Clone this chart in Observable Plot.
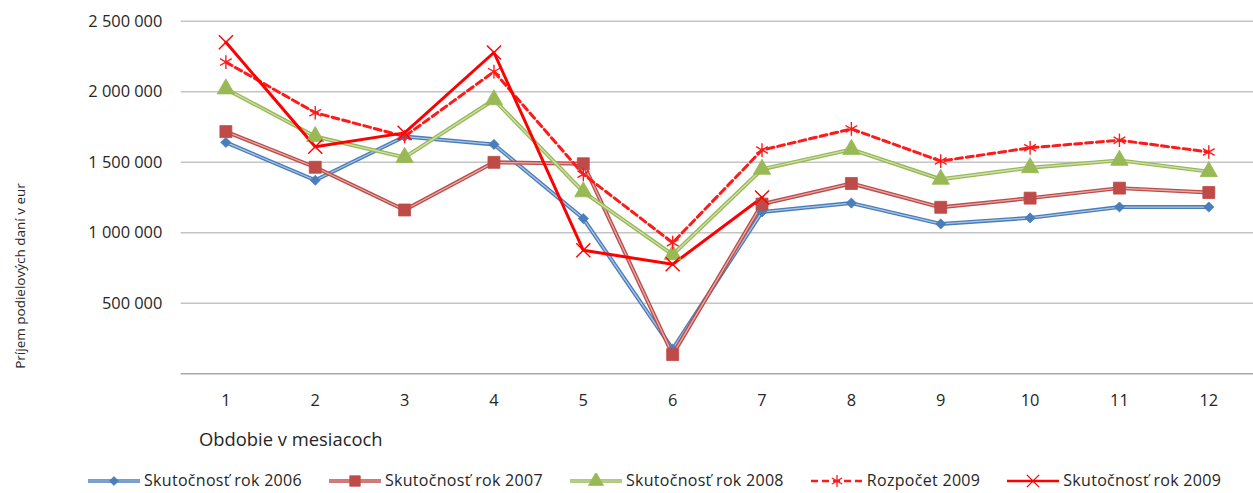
<!DOCTYPE html>
<html>
<head>
<meta charset="utf-8">
<script src="https://cdn.jsdelivr.net/npm/d3@7"></script>
<script src="https://cdn.jsdelivr.net/npm/@observablehq/plot@0.6"></script>
<style>
  html, body { margin: 0; padding: 0; background: #fff; overflow: hidden; }
  #wrap { position: relative; width: 1253px; height: 493px; overflow: hidden; font-family: "Open Sans", Lato, sans-serif; color: #262626; }
  #wrap svg.plot { display: block; }
  #legend { display: flex; align-items: center; padding-left: 88px; gap: 27px; height: 64px; font-size: 16px; line-height: 17px; letter-spacing: 0.3px; }
  .item { display: flex; align-items: center; gap: 4px; }
  .item svg { display: block; }
  #ytitle { position: absolute; left: 19.5px; top: 276px; transform: translate(-50%, -50%) rotate(-90deg); white-space: nowrap; font-size: 13.5px; }
</style>
</head>
<body>
<div id="wrap"></div>
<script>
const months = [1, 2, 3, 4, 5, 6, 7, 8, 9, 10, 11, 12];
const s2006 = [1641000, 1373000, 1683000, 1627000, 1101000, 175000, 1148000, 1211000, 1063000, 1106000, 1183000, 1183000];
const s2007 = [1718000, 1465000, 1162000, 1500000, 1490000, 136000, 1204000, 1350000, 1181000, 1246000, 1317000, 1286000];
const s2008 = [2021000, 1683000, 1535000, 1944000, 1291000, 845000, 1451000, 1592000, 1380000, 1462000, 1514000, 1434000];
const r2009 = [2211000, 1852000, 1683000, 2143000, 1415000, 930000, 1587000, 1737000, 1509000, 1603000, 1657000, 1573000];
const s2009 = [2352000, 1610000, 1709000, 2279000, 876000, 777000, 1251000];
const yTicks = [500000, 1000000, 1500000, 2000000, 2500000];
const seriesNames = ["Skutočnosť rok 2006", "Skutočnosť rok 2007", "Skutočnosť rok 2008", "Rozpočet 2009", "Skutočnosť rok 2009"];
const yTitle = "Príjem podielových daní v eur";
const xTitle = "Obdobie v mesiacoch";

const series = [
  {name: seriesNames[0], values: s2006, color: "#4A7EBB", symbol: "diamond2", r: 4.6, double: true, dash: null, filled: true},
  {name: seriesNames[1], values: s2007, color: "#BE4B48", symbol: "square", r: 6.8, double: true, dash: null, filled: true},
  {name: seriesNames[2], values: s2008, color: "#98B954", symbol: "triangle", r: 6.5, double: true, dash: null, filled: true},
  {name: seriesNames[3], values: r2009, color: "#FF1A1A", symbol: "asterisk", r: 6.5, double: false, dash: "7,4", filled: false},
  {name: seriesNames[4], values: s2009, color: "#FF0000", symbol: "times", r: 6.5, double: false, dash: null, filled: false}
];
const rows = s => s.values.map((v, i) => ({month: months[i], value: v}));

const fmt = v => d3.format(",")(v).replace(/,/g, " ");

const marks = [
  Plot.ruleY(yTicks, {stroke: "#c4c4c4", strokeWidth: 1.5}),
  Plot.ruleY([0], {stroke: "#a8a8a8", strokeWidth: 1.5}),
  Plot.axisY(yTicks, {tickSize: 0, tickPadding: 19, tickFormat: fmt, fontSize: 16.5, fill: "#262626"}),
  Plot.axisX(months, {tickSize: 0, tickPadding: 21, fontSize: 16.5, fill: "#262626"}),
  Plot.text([xTitle], {frameAnchor: "bottom-left", textAnchor: "start", lineAnchor: "middle", dx: 18, dy: 67, fontSize: 18.5, fill: "#262626"})
];
for (const s of series) {
  const data = rows(s);
  if (s.double) {
    marks.push(Plot.line(data, {x: "month", y: "value", stroke: s.color, strokeWidth: 4}));
    marks.push(Plot.line(data, {x: "month", y: "value", stroke: "#fff", strokeOpacity: 0.55, strokeWidth: 1.3}));
  } else {
    marks.push(Plot.line(data, {x: "month", y: "value", stroke: s.color, strokeWidth: 3, strokeDasharray: s.dash}));
  }
}
for (const s of series) {
  const data = rows(s);
  if (s.filled) {
    marks.push(Plot.dot(data, {x: "month", y: "value", symbol: s.symbol, r: s.r, fill: s.color, stroke: s.color, strokeWidth: 0.8}));
  } else {
    marks.push(Plot.dot(data, {x: "month", y: "value", symbol: s.symbol, r: s.r, fill: "none", stroke: s.color, strokeWidth: 1.4}));
  }
}

const chart = Plot.plot({
  width: 1262,
  height: 452,
  marginLeft: 182,
  marginRight: 0,
  marginTop: 21,
  marginBottom: 76,
  style: {fontFamily: "'Open Sans', Lato, sans-serif", overflow: "visible"},
  x: {type: "point", domain: months, padding: 0.5, label: null},
  y: {domain: [0, 2500000], label: null},
  marks
});
const wrap = document.getElementById("wrap");
wrap.appendChild(chart);

const yt = document.createElement("div");
yt.id = "ytitle";
yt.textContent = yTitle;
wrap.appendChild(yt);

// legend
const legend = document.createElement("div");
legend.id = "legend";
const symMap = {diamond2: d3.symbolDiamond2, square: d3.symbolSquare, triangle: d3.symbolTriangle, asterisk: d3.symbolAsterisk, times: d3.symbolTimes};
for (const s of series) {
  const item = document.createElement("div");
  item.className = "item";
  const w = 52, h = 16;
  const svg = d3.create("svg").attr("width", w).attr("height", h);
  if (s.double) {
    svg.append("line").attr("x1", 0).attr("x2", w).attr("y1", h / 2).attr("y2", h / 2).attr("stroke", s.color).attr("stroke-width", 3.5);
    svg.append("line").attr("x1", 0).attr("x2", w).attr("y1", h / 2).attr("y2", h / 2).attr("stroke", "#fff").attr("stroke-opacity", 0.55).attr("stroke-width", 1.1);
  } else {
    svg.append("line").attr("x1", 0).attr("x2", w).attr("y1", h / 2).attr("y2", h / 2).attr("stroke", s.color).attr("stroke-width", 2.5).attr("stroke-dasharray", s.dash);
  }
  const size = Math.PI * s.r * s.r * 0.75;
  svg.append("path").attr("transform", `translate(${w / 2},${h / 2})`)
    .attr("d", d3.symbol(symMap[s.symbol], size)())
    .attr("fill", s.filled ? s.color : "none").attr("stroke", s.color).attr("stroke-width", s.filled ? 0.8 : 1.3);
  item.appendChild(svg.node());
  const label = document.createElement("span");
  label.textContent = s.name;
  item.appendChild(label);
  legend.appendChild(item);
}
wrap.appendChild(legend);
</script>
</body>
</html>
